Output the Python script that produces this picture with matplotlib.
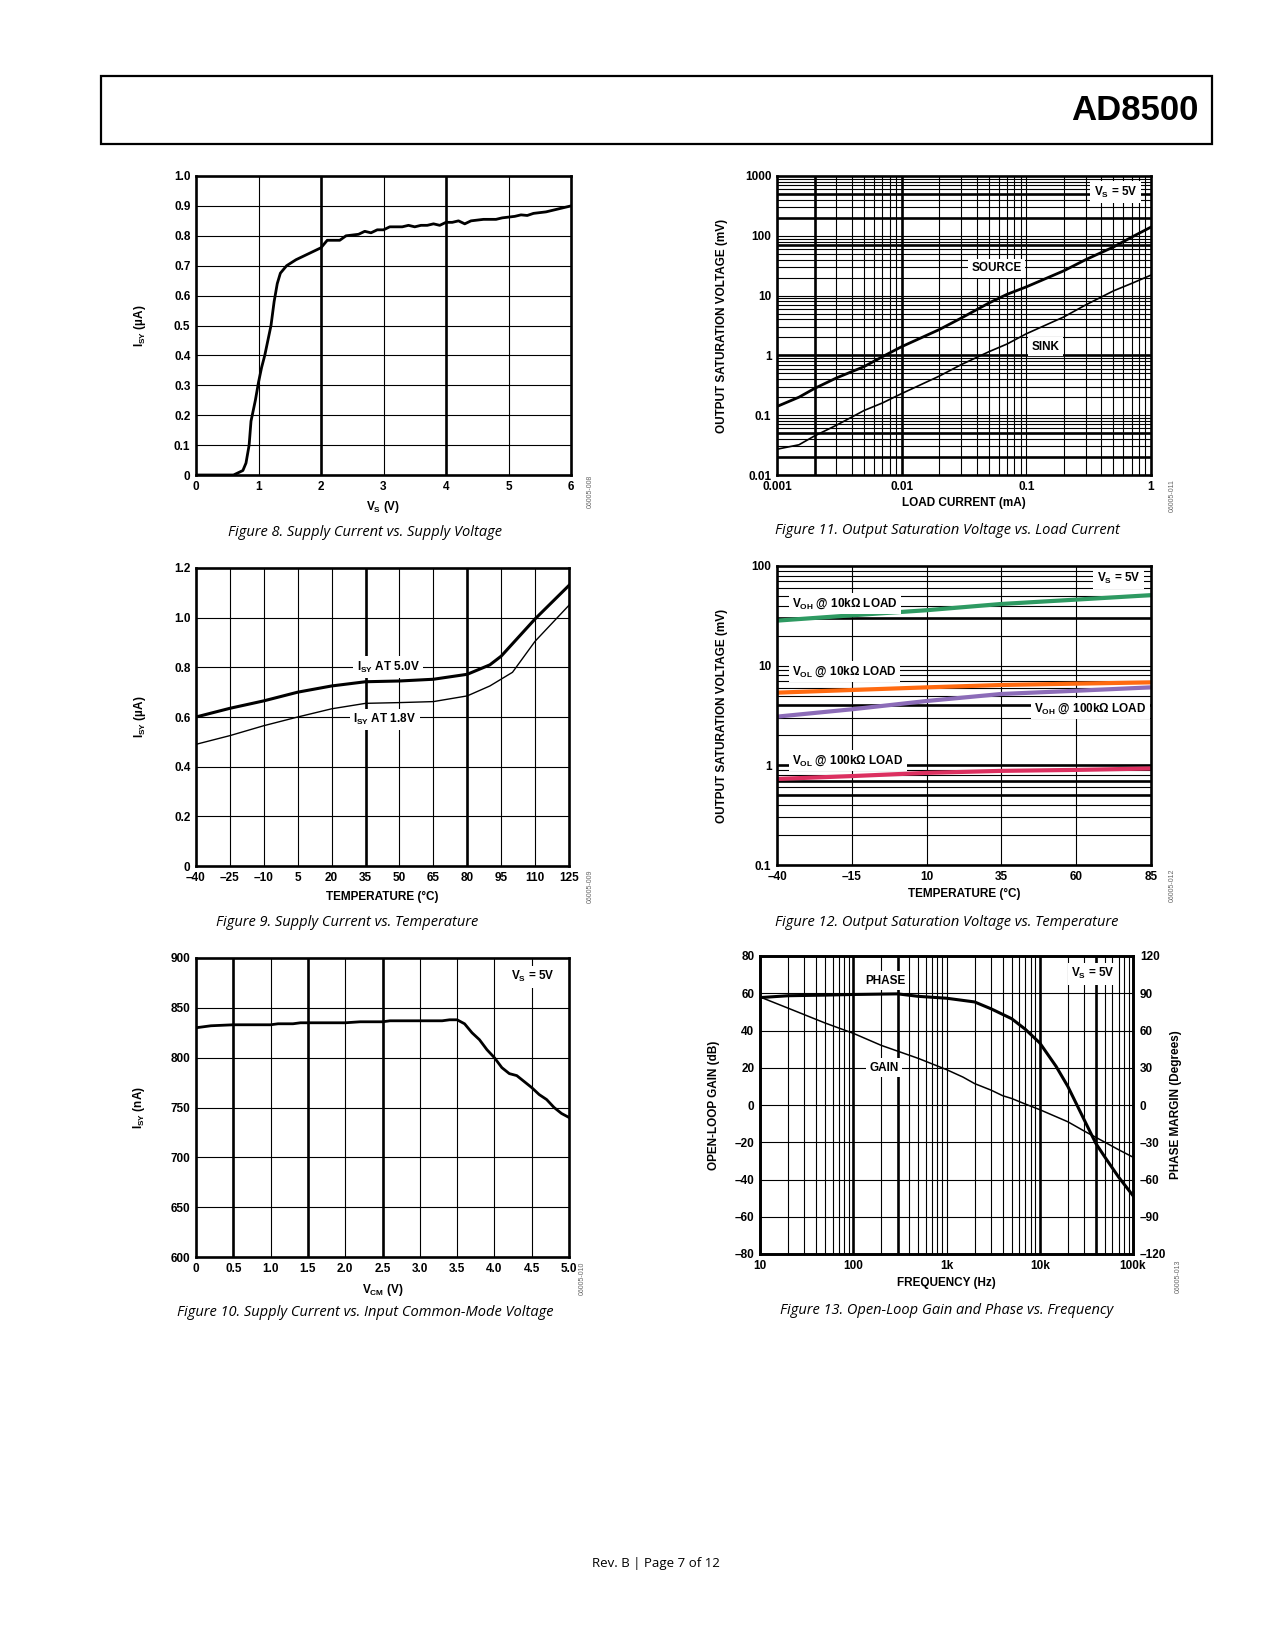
import numpy as np
import matplotlib
matplotlib.use('Agg')
import matplotlib.pyplot as plt
import matplotlib.ticker as ticker
import matplotlib.patches as patches

plt.rcParams['font.family'] = ['Liberation Sans', 'DejaVu Sans']
plt.rcParams['font.weight'] = 'bold'
plt.rcParams['axes.labelweight'] = 'bold'
plt.rcParams['mathtext.fontset'] = 'custom'
plt.rcParams['mathtext.rm'] = 'Liberation Sans:bold'
plt.rcParams['mathtext.it'] = 'Liberation Sans:bold'
plt.rcParams['mathtext.bf'] = 'Liberation Sans:bold'

# ---- Figure 8: supply current vs supply voltage
vs_v = [0, 0.6, 0.75, 0.8, 0.85, 0.88, 0.95, 1.0, 1.05, 1.1, 1.15, 1.2, 1.25, 1.3, 1.35, 1.45,
        1.6, 1.8, 2.0, 2.1, 2.3, 2.4, 2.6, 2.7, 2.8, 2.9, 3.0, 3.1, 3.3, 3.4, 3.5, 3.6, 3.7,
        3.8, 3.9, 4.0, 4.1, 4.2, 4.3, 4.4, 4.6, 4.8, 4.9, 5.1, 5.2, 5.3, 5.4, 5.6, 5.7, 5.8, 6.0]
isy_vs = [0, 0, 0.015, 0.04, 0.1, 0.18, 0.25, 0.31, 0.36, 0.40, 0.45, 0.50, 0.58, 0.64, 0.675, 0.70,
          0.72, 0.74, 0.76, 0.785, 0.785, 0.80, 0.805, 0.815, 0.81, 0.82, 0.82, 0.83, 0.83, 0.835, 0.83,
          0.835, 0.835, 0.84, 0.835, 0.845, 0.845, 0.85, 0.84, 0.85, 0.855, 0.855, 0.86, 0.865, 0.87,
          0.868, 0.875, 0.88, 0.885, 0.89, 0.90]
f8_xticks = [0, 1, 2, 3, 4, 5, 6]
f8_yticks = [0, 0.1, 0.2, 0.3, 0.4, 0.5, 0.6, 0.7, 0.8, 0.9, 1.0]
f8_ylabels = ['0', '0.1', '0.2', '0.3', '0.4', '0.5', '0.6', '0.7', '0.8', '0.9', '1.0']

# ---- Figure 9: supply current vs temperature
temp9 = [-40, -25, -10, 5, 20, 35, 50, 65, 80, 90, 95, 110, 125]
isy_5v0 = [0.60, 0.635, 0.665, 0.70, 0.725, 0.742, 0.745, 0.752, 0.772, 0.81, 0.845, 0.995, 1.13]
temp9b = [-40, -25, -10, 5, 20, 35, 50, 65, 80, 90, 100, 110, 125]
isy_1v8 = [0.49, 0.525, 0.565, 0.60, 0.633, 0.655, 0.658, 0.662, 0.685, 0.725, 0.78, 0.905, 1.05]
f9_xticks = [-40, -25, -10, 5, 20, 35, 50, 65, 80, 95, 110, 125]
f9_xlabels = ['–40', '–25', '–10', '5', '20', '35', '50', '65', '80', '95', '110', '125']
f9_yticks = [0, 0.2, 0.4, 0.6, 0.8, 1.0, 1.2]
f9_ylabels = ['0', '0.2', '0.4', '0.6', '0.8', '1.0', '1.2']

# ---- Figure 10: supply current vs common-mode voltage
vcm = [0, 0.1, 0.2, 0.5, 1.0, 1.1, 1.3, 1.4, 2.0, 2.2, 2.5, 2.6, 3.3, 3.4, 3.5, 3.6, 3.7, 3.8,
       3.9, 4.0, 4.1, 4.2, 4.3, 4.4, 4.5, 4.6, 4.7, 4.8, 4.9, 5.0]
isy_vcm = [830, 831, 832, 833, 833, 834, 834, 835, 835, 836, 836, 837, 837, 838, 838, 834, 825, 818,
           808, 800, 790, 784, 782, 776, 770, 763, 758, 750, 744, 740]
f10_xticks = [0, 0.5, 1.0, 1.5, 2.0, 2.5, 3.0, 3.5, 4.0, 4.5, 5.0]
f10_xlabels = ['0', '0.5', '1.0', '1.5', '2.0', '2.5', '3.0', '3.5', '4.0', '4.5', '5.0']
f10_yticks = [600, 650, 700, 750, 800, 850, 900]

# ---- Figure 11: output saturation voltage vs load current
load_ma = [0.001, 0.0015, 0.002, 0.003, 0.005, 0.007, 0.01, 0.02, 0.03, 0.05, 0.07, 0.1, 0.2, 0.3, 0.5, 0.7, 1.0]
source_mv = [0.14, 0.2, 0.28, 0.42, 0.65, 0.95, 1.4, 2.7, 4.2, 7.5, 10.5, 14, 26, 40, 65, 95, 140]
sink_mv = [0.027, 0.032, 0.045, 0.068, 0.12, 0.16, 0.23, 0.45, 0.7, 1.15, 1.55, 2.3, 4.4, 7, 12, 16, 22]
f11_xticks = [0.001, 0.01, 0.1, 1]
f11_xlabels = ['0.001', '0.01', '0.1', '1']
f11_yticks = [0.01, 0.1, 1, 10, 100, 1000]
f11_ylabels = ['0.01', '0.1', '1', '10', '100', '1000']

# ---- Figure 12: output saturation voltage vs temperature
temp12 = [-40, -15, 10, 35, 60, 85]
voh_10k = [28.3, 32, 36, 41.6, 46, 51]
vol_10k = [5.36, 5.7, 6.06, 6.4, 6.6, 6.8]
voh_100k = [3.08, 3.65, 4.42, 5.2, 5.6, 6.06]
vol_100k = [0.73, 0.78, 0.84, 0.88, 0.90, 0.93]
f12_xlabels = ['–40', '–15', '10', '35', '60', '85']
f12_yticks = [0.1, 1, 10, 100]
f12_ylabels = ['0.1', '1', '10', '100']

# ---- Figure 13: open-loop gain and phase vs frequency
freq_gain = [10, 20, 50, 100, 200, 500, 1000, 1500, 2000, 3000, 4000, 5000, 7000, 10000, 20000, 30000, 50000, 70000, 100000]
gain_db = [58, 52, 44, 38.5, 32, 25, 19, 15, 11.5, 8, 5, 3.5, 0.5, -2.5, -9, -14, -20, -24, -28]
freq_phase = [10, 20, 50, 100, 300, 500, 1000, 2000, 3000, 5000, 7000, 10000, 15000, 20000, 30000, 40000, 50000, 70000, 100000]
phase_deg = [86.5, 88, 88.5, 89, 89.5, 87.5, 86, 83, 77.5, 69.5, 61, 50, 31, 15, -12, -31, -42, -58, -73]
f13_xticks = [10, 100, 1000, 10000, 100000]
f13_xlabels = ['10', '100', '1k', '10k', '100k']
f13_yticks = [-80, -60, -40, -20, 0, 20, 40, 60, 80]
f13_ylabels = ['–80', '–60', '–40', '–20', '0', '20', '40', '60', '80']
f13_y2ticks = [-120, -90, -60, -30, 0, 30, 60, 90, 120]
f13_y2labels = ['–120', '–90', '–60', '–30', '0', '30', '60', '90', '120']

W, H = 1275, 1650
fig = plt.figure(figsize=(12.75, 16.5), dpi=100)

THIN = 0.8
THICK = 1.9
TS = 8.5  # tick label size
LS = 8.5  # axis label size
BOX = dict(facecolor='white', edgecolor='none', pad=2.5)


def px_axes(x0, y0, x1, y1):
    return fig.add_axes([x0 / W, 1 - y1 / H, (x1 - x0) / W, (y1 - y0) / H])


def style(ax):
    for s in ax.spines.values():
        s.set_linewidth(THICK)
        s.set_zorder(5)
    ax.tick_params(which='both', length=0, labelsize=TS, pad=4)


def log_minors(lo, hi):
    out = []
    for d in range(lo, hi):
        for m in range(1, 10):
            out.append(m * 10.0 ** d)
    return out


def caption(x, y, s):
    fig.text(x / W, 1 - y / H, s, ha='center', va='center', fontsize=10.5,
             family=['Open Sans', 'DejaVu Sans'], style='italic', weight='normal')


def fig_id(x, y, s):
    fig.text(x / W, 1 - y / H, s, ha='center', va='center', fontsize=5, rotation=90,
             color='#666666', weight='normal')


# header
fig.add_artist(patches.Rectangle((101 / W, 1 - 144 / H), (1212 - 101) / W, (144 - 76) / H,
                                 transform=fig.transFigure, fill=False, lw=1.6, edgecolor='black'))
fig.text(1199 / W, 1 - 110 / H, 'AD8500', ha='right', va='center', fontsize=25,
         family=['Liberation Sans Narrow', 'DejaVu Sans Condensed', 'Liberation Sans'],
         weight='bold', stretch='condensed')
fig.text(656 / W, 1 - 1564 / H, 'Rev. B | Page 7 of 12', ha='center', va='center', fontsize=9.5,
         family=['Open Sans', 'DejaVu Sans'], weight='normal')

# ---------------- Figure 8
ax = px_axes(196, 176, 571, 475)
style(ax)
for x in f8_xticks[1:-1]:
    ax.axvline(x, color='black', lw=THICK if x in (2, 4) else THIN, zorder=1)
for y in f8_yticks[1:-1]:
    ax.axhline(y, color='black', lw=THIN, zorder=1)
ax.plot(vs_v, isy_vs, color='black', lw=2.0, zorder=3)
ax.set_xlim(0, 6)
ax.set_ylim(0, 1.0)
ax.set_xticks(f8_xticks)
ax.set_xticklabels([str(v) for v in f8_xticks])
ax.set_yticks(f8_yticks)
ax.set_yticklabels(f8_ylabels)
ax.set_xlabel('V$_{\\mathrm{S}}$ (V)', fontsize=LS)
ax.set_ylabel('I$_{\\mathrm{SY}}$ (µA)', fontsize=LS)
ax.xaxis.set_label_coords(0.5, -24 / 299)
ax.yaxis.set_label_coords(-48 / 375, 0.5)
caption(365, 532, 'Figure 8. Supply Current vs. Supply Voltage')
fig_id(590, 491, '06005-008')

# ---------------- Figure 9
ax = px_axes(196, 568, 569, 866)
style(ax)
for x in f9_xticks[1:-1]:
    ax.axvline(x, color='black', lw=THICK if x in (35, 80) else THIN, zorder=1)
for y in f9_yticks[1:-1]:
    ax.axhline(y, color='black', lw=THIN, zorder=1)
ax.plot(temp9, isy_5v0, color='black', lw=2.2, zorder=3)
ax.plot(temp9b, isy_1v8, color='black', lw=1.0, zorder=3)
ax.text(45, 0.80, 'I$_{\\mathrm{SY}}$ AT 5.0V', ha='center', va='center', fontsize=TS, bbox=BOX, zorder=4)
ax.text(43.5, 0.59, 'I$_{\\mathrm{SY}}$ AT 1.8V', ha='center', va='center', fontsize=TS, bbox=BOX, zorder=4)
ax.set_xlim(-40, 125)
ax.set_ylim(0, 1.2)
ax.set_xticks(f9_xticks)
ax.set_xticklabels(f9_xlabels)
ax.set_yticks(f9_yticks)
ax.set_yticklabels(f9_ylabels)
ax.set_xlabel('TEMPERATURE (°C)', fontsize=LS)
ax.set_ylabel('I$_{\\mathrm{SY}}$ (µA)', fontsize=LS)
ax.xaxis.set_label_coords(0.5, -25 / 298)
ax.yaxis.set_label_coords(-48 / 373, 0.5)
caption(347, 922, 'Figure 9. Supply Current vs. Temperature')
fig_id(590, 886, '06005-009')

# ---------------- Figure 10
ax = px_axes(196, 958, 569, 1257)
style(ax)
for x in f10_xticks[1:-1]:
    ax.axvline(x, color='black', lw=THICK if x in (0.5, 1.5, 2.5) else THIN, zorder=1)
for y in f10_yticks[1:-1]:
    ax.axhline(y, color='black', lw=THIN, zorder=1)
ax.plot(vcm, isy_vcm, color='black', lw=2.0, zorder=3)
ax.text(4.51, 881, 'V$_{\\mathrm{S}}$ = 5V', ha='center', va='center', fontsize=TS, bbox=BOX, zorder=4)
ax.set_xlim(0, 5)
ax.set_ylim(600, 900)
ax.set_xticks(f10_xticks)
ax.set_xticklabels(f10_xlabels)
ax.set_yticks(f10_yticks)
ax.set_yticklabels([str(v) for v in f10_yticks])
ax.set_xlabel('V$_{\\mathrm{CM}}$ (V)', fontsize=LS)
ax.set_ylabel('I$_{\\mathrm{SY}}$ (nA)', fontsize=LS)
ax.xaxis.set_label_coords(0.5, -25 / 299)
ax.yaxis.set_label_coords(-49 / 373, 0.5)
caption(365, 1312, 'Figure 10. Supply Current vs. Input Common-Mode Voltage')
fig_id(582, 1278, '06005-010')

# ---------------- Figure 11
ax = px_axes(777, 176, 1151, 475)
style(ax)
ax.set_xscale('log')
ax.set_yscale('log')
for x in log_minors(-3, 0):
    ax.axvline(x, color='black', lw=THICK if np.isclose(x, 0.002) or np.isclose(x, 0.01) else THIN, zorder=1)
for y in log_minors(-2, 3):
    thick = any(np.isclose(y, v) for v in (0.02, 0.05, 1, 70, 200, 500))
    ax.axhline(y, color='black', lw=THICK if thick else THIN, zorder=1)
ax.plot(load_ma, source_mv, color='black', lw=2.0, zorder=3)
ax.plot(load_ma, sink_mv, color='black', lw=1.2, zorder=3)
ax.text(0.058, 28.6, 'SOURCE', ha='center', va='center', fontsize=TS, bbox=BOX, zorder=4)
ax.text(0.143, 1.4, 'SINK', ha='center', va='center', fontsize=TS, bbox=BOX, zorder=4)
ax.text(0.52, 540, 'V$_{\\mathrm{S}}$ = 5V', ha='center', va='center', fontsize=TS, bbox=BOX, zorder=4)
ax.set_xlim(0.001, 1)
ax.set_ylim(0.01, 1000)
ax.set_xticks(f11_xticks)
ax.set_xticklabels(f11_xlabels)
ax.set_yticks(f11_yticks)
ax.set_yticklabels(f11_ylabels)
ax.xaxis.set_minor_locator(ticker.NullLocator())
ax.yaxis.set_minor_locator(ticker.NullLocator())
ax.set_xlabel('LOAD CURRENT (mA)', fontsize=LS)
ax.set_ylabel('OUTPUT SATURATION VOLTAGE (mV)', fontsize=LS)
ax.xaxis.set_label_coords(0.5, -22 / 299)
ax.yaxis.set_label_coords(-49 / 374, 0.5)
caption(947, 530, 'Figure 11. Output Saturation Voltage vs. Load Current')
fig_id(1172, 496, '06005-011')

# ---------------- Figure 12
ax = px_axes(777, 566, 1151, 865)
style(ax)
ax.set_yscale('log')
for x in temp12[1:-1]:
    ax.axvline(x, color='black', lw=THIN, zorder=1)
for y in log_minors(-1, 2):
    thick = any(np.isclose(y, v) for v in (0.5, 0.7, 1, 4, 30))
    ax.axhline(y, color='black', lw=THICK if thick else THIN, zorder=1)
ax.plot(temp12, voh_10k, color='#2e9a62', lw=3.0, zorder=3)
ax.plot(temp12, vol_10k, color='#ff6a10', lw=3.0, zorder=3)
ax.plot(temp12, voh_100k, color='#8c6cb8', lw=3.0, zorder=3)
ax.plot(temp12, vol_100k, color='#dc3060', lw=3.0, zorder=3)
ax.text(-35, 42, 'V$_{\\mathrm{OH}}$ @ 10kΩ LOAD', ha='left', va='center', fontsize=TS, bbox=BOX, zorder=4)
ax.text(-35, 8.7, 'V$_{\\mathrm{OL}}$ @ 10kΩ LOAD', ha='left', va='center', fontsize=TS, bbox=BOX, zorder=4)
ax.text(83.4, 3.73, 'V$_{\\mathrm{OH}}$ @ 100kΩ LOAD', ha='right', va='center', fontsize=TS, bbox=BOX, zorder=4)
ax.text(-35, 1.11, 'V$_{\\mathrm{OL}}$ @ 100kΩ LOAD', ha='left', va='center', fontsize=TS, bbox=BOX, zorder=4)
ax.text(81.4, 75, 'V$_{\\mathrm{S}}$ = 5V', ha='right', va='center', fontsize=TS, bbox=BOX, zorder=4)
ax.set_xlim(-40, 85)
ax.set_ylim(0.1, 100)
ax.set_xticks(temp12)
ax.set_xticklabels(f12_xlabels)
ax.set_yticks(f12_yticks)
ax.set_yticklabels(f12_ylabels)
ax.yaxis.set_minor_locator(ticker.NullLocator())
ax.set_xlabel('TEMPERATURE (°C)', fontsize=LS)
ax.set_ylabel('OUTPUT SATURATION VOLTAGE (mV)', fontsize=LS)
ax.xaxis.set_label_coords(0.5, -23 / 299)
ax.yaxis.set_label_coords(-49 / 374, 0.5)
caption(947, 922, 'Figure 12. Output Saturation Voltage vs. Temperature')
fig_id(1172, 885, '06005-012')

# ---------------- Figure 13
ax = px_axes(760, 956, 1133, 1254)
style(ax)
ax.set_xscale('log')
for x in log_minors(1, 5):
    thick = any(np.isclose(x, v) for v in (100, 300, 10000, 40000))
    ax.axvline(x, color='black', lw=THICK if thick else THIN, zorder=1)
for y in f13_yticks[1:-1]:
    ax.axhline(y, color='black', lw=THIN, zorder=1)
ax.plot(freq_gain, gain_db, color='black', lw=1.1, zorder=3)
ax.text(222, 66.8, 'PHASE', ha='center', va='center', fontsize=TS, bbox=BOX, zorder=4)
ax.text(215, 20, 'GAIN', ha='center', va='center', fontsize=TS, bbox=BOX, zorder=4)
ax.text(37000, 70.5, 'V$_{\\mathrm{S}}$ = 5V', ha='center', va='center', fontsize=TS, bbox=BOX, zorder=4)
ax.set_xlim(10, 100000)
ax.set_ylim(-80, 80)
ax.set_xticks(f13_xticks)
ax.set_xticklabels(f13_xlabels)
ax.set_yticks(f13_yticks)
ax.set_yticklabels(f13_ylabels)
ax.xaxis.set_minor_locator(ticker.NullLocator())
ax.set_xlabel('FREQUENCY (Hz)', fontsize=LS)
ax.set_ylabel('OPEN-LOOP GAIN (dB)', fontsize=LS)
ax.xaxis.set_label_coords(0.5, -23 / 298)
ax.yaxis.set_label_coords(-40 / 373, 0.5)
ax2 = ax.twinx()
ax2.plot(freq_phase, phase_deg, color='black', lw=2.2, zorder=3)
ax2.set_ylim(-120, 120)
ax2.set_yticks(f13_y2ticks)
ax2.set_yticklabels(f13_y2labels)
ax2.tick_params(length=0, labelsize=TS, pad=5)
for s in ax2.spines.values():
    s.set_linewidth(THICK)
ax2.set_ylabel('PHASE MARGIN (Degrees)', fontsize=LS)
ax2.yaxis.set_label_coords(1 + 37 / 373, 0.5)
caption(947, 1310, 'Figure 13. Open-Loop Gain and Phase vs. Frequency')
fig_id(1178, 1276, '06005-013')

fig.savefig('out.png', dpi=100)
